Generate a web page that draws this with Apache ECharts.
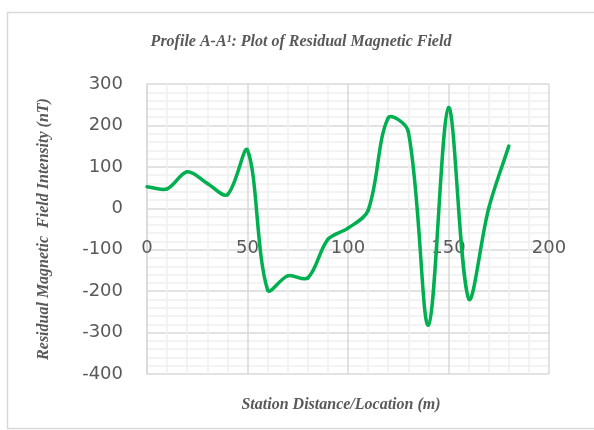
<!DOCTYPE html>
<html>
<head>
<meta charset="utf-8">
<script src="https://cdn.jsdelivr.net/npm/echarts@6/dist/echarts.min.js"></script>
<style>
html,body{margin:0;padding:0;background:#fff;}
#chart{width:594px;height:430px;}
</style>
</head>
<body>
<div id="chart"></div>
<script>
const stations = [0, 10, 20, 30, 40, 50, 60, 70, 80, 90, 100, 110, 120, 130, 140, 150, 160, 170, 180];
const residual = [52, 47, 88, 60, 33, 140, -197, -163, -168, -75, -48, -5, 218, 185, -282, 243, -218, 0, 150];
const titleText = 'Profile A-A\u00B9: Plot of Residual Magnetic Field';
const xTitle = 'Station Distance/Location (m)';
const yTitle = 'Residual Magnetic  Field Intensity (nT)';

const chart = echarts.init(document.getElementById('chart'), null, {renderer: 'canvas'});
const labelFont = {color: '#595959', fontSize: 18, fontFamily: 'DejaVu Sans'};
const nameFont = {color: '#595959', fontSize: 16, fontFamily: 'Liberation Serif', fontWeight: 'bold', fontStyle: 'italic'};

// Spreadsheet-style smoothed line: each data item draws a cubic Bezier segment to the
// next point; control points come from neighbouring points (scaled by segment lengths),
// all positions obtained through the axis scales (api.coord).
function renderSegment(params, api) {
  const i = params.dataIndex;
  const n = stations.length;
  if (i >= n - 1) return null;
  const pt = j => { const c = Math.max(0, Math.min(n - 1, j)); return api.coord([stations[c], residual[c]]); };
  const dist = (a, b) => Math.hypot(a[0] - b[0], a[1] - b[1]);
  const k = 1 / 3;
  function ctrl(prev, cur, next, forward) {
    const d0 = dist(prev, cur), d1 = dist(cur, next);
    const s = d0 + d1;
    if (s === 0) return cur.slice();
    const vx = next[0] - prev[0], vy = next[1] - prev[1];
    const r = forward ? d1 / s : d0 / s;
    const sign = forward ? 1 : -1;
    return [cur[0] + sign * vx * k * r, cur[1] + sign * vy * k * r];
  }
  const p0 = pt(i - 1), p1 = pt(i), p2 = pt(i + 1), p3 = pt(i + 2);
  const c1 = ctrl(p0, p1, p2, true);
  const c2 = ctrl(p1, p2, p3, false);
  return {
    type: 'bezierCurve',
    shape: {x1: p1[0], y1: p1[1], x2: p2[0], y2: p2[1], cpx1: c1[0], cpy1: c1[1], cpx2: c2[0], cpy2: c2[1]},
    style: {stroke: '#00B050', lineWidth: 3.5, fill: null, lineCap: 'round', lineJoin: 'round'}
  };
}

chart.setOption({
  animation: false,
  backgroundColor: '#fff',
  graphic: [
    {type: 'rect', shape: {x: 7.5, y: 12.5, width: 600, height: 416}, style: {fill: 'none', stroke: '#d9d9d9', lineWidth: 1.5}, silent: true},
    {type: 'text', x: 301, y: 42, style: {text: titleText, textAlign: 'center', textVerticalAlign: 'middle', fill: '#595959', font: 'italic bold 16px "Liberation Serif"'}},
    {type: 'text', x: 341, y: 405, style: {text: xTitle, textAlign: 'center', textVerticalAlign: 'middle', fill: '#595959', font: 'italic bold 16px "Liberation Serif"'}}
  ],
  grid: {left: 147, top: 84, right: 45, bottom: 56, containLabel: false},
  xAxis: {
    type: 'value', min: 0, max: 200, interval: 50,
    position: 'bottom', offset: -166,
    axisLine: {show: false, onZero: false},
    axisTick: {show: false},
    axisLabel: Object.assign({margin: 31}, labelFont),
    splitLine: {show: true, lineStyle: {color: '#d9d9d9', width: 1.5}},
    minorTick: {show: false, splitNumber: 5},
    minorSplitLine: {show: true, lineStyle: {color: '#efefef', width: 1.5}}
  },
  yAxis: {
    type: 'value', min: -400, max: 300, interval: 100,
    name: yTitle, nameLocation: 'middle', nameGap: 95, nameRotate: 90,
    nameTextStyle: nameFont,
    axisLine: {show: true, lineStyle: {color: '#d9d9d9', width: 1.5}},
    axisTick: {show: false},
    axisLabel: Object.assign({margin: 24}, labelFont),
    splitLine: {show: true, lineStyle: {color: '#d9d9d9', width: 1.5}},
    minorTick: {show: false, splitNumber: 5},
    minorSplitLine: {show: true, lineStyle: {color: '#efefef', width: 1.5}}
  },
  series: [{
    type: 'custom',
    data: stations.map((s, i) => [s, residual[i]]),
    encode: {x: 0, y: 1},
    renderItem: renderSegment,
    clip: false,
    z: 5
  }]
});
</script>
</body>
</html>
